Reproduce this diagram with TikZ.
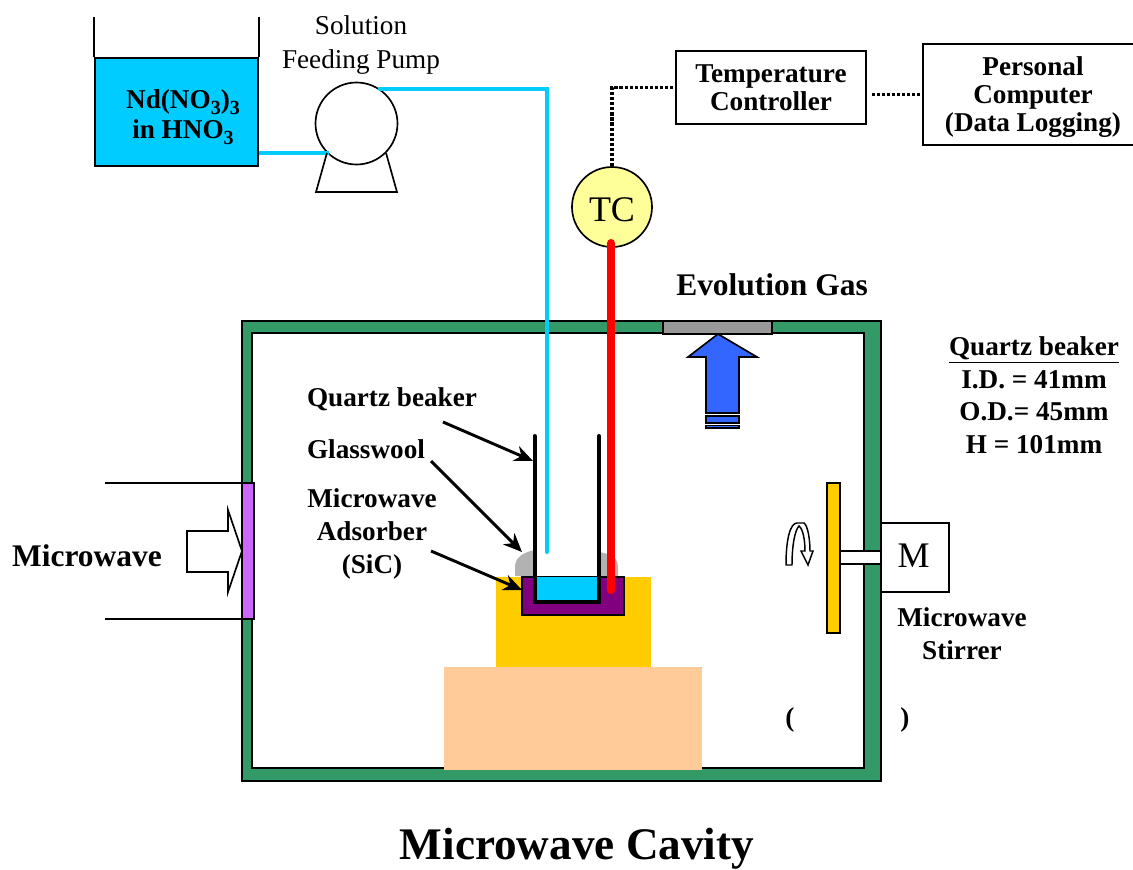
\documentclass[tikz,border=0pt]{standalone}
\usepackage{fontspec}
\setmainfont{Liberation Serif}
\usetikzlibrary{arrows.meta}
\definecolor{liquid}{HTML}{00CCFF}
\definecolor{wallgreen}{HTML}{339966}
\definecolor{amber}{HTML}{FFCC00}
\definecolor{peach}{HTML}{FFCC99}
\definecolor{plum}{HTML}{800080}
\definecolor{violet}{HTML}{CC66FF}
\definecolor{paleyellow}{HTML}{FFFF99}
\definecolor{gasblue}{HTML}{3366FF}
\definecolor{woolgray}{HTML}{B2B2B2}
\newcommand{\lowthree}{\raisebox{-4.5pt}{\fontsize{15}{15}\selectfont 3}}
\tikzset{
    thinline/.style={black, line width=1.25pt},
    pipe/.style={liquid, line width=3pt},
    wire/.style={black, line width=2.6pt, dash pattern=on 2.4pt off 1.4pt},
    pointer/.style={-{Stealth[length=14pt,width=12pt]}, black, line width=2.2pt},
    boldlabel/.style={font=\bfseries\fontsize{20.4}{#1}\selectfont, align=center, inner sep=0pt},
    boldlabel/.default=21,
    plainlabel/.style={font=\fontsize{20.4}{25.5}\selectfont, align=center, inner sep=0pt},
    device/.style={draw, thinline, fill=white, inner sep=0pt}
}

\begin{document}
\begin{tikzpicture}[x=0.75pt, y=-0.75pt]
    \useasboundingbox (0,0) rectangle (1133,869);

    % Cavity walls
    \draw[thinline, fill=wallgreen] (242,321) rectangle (881,781);
    \draw[thinline, fill=white] (252,333) rectangle (864,768);

    % Vent and gas arrow
    \draw[thinline, fill=gray!80] (663,321) rectangle (772,334);
    \draw[thinline, fill=gasblue] (718,334) -- (757,357) -- (739,357) -- (739,413) -- (706,413) -- (706,357) -- (688,357) -- cycle;
    \draw[thinline, fill=gasblue] (706,416) rectangle (739,423);
    \draw[thinline, fill=gasblue] (706,425.5) rectangle (739,428);
    \node[font=\bfseries\fontsize{23.6}{26}\selectfont, inner sep=0pt] (gaslabel) at (772,285) {Evolution Gas};

    % Stage
    \fill[peach] (444,667) rectangle (702,770);
    \fill[amber] (496,577) rectangle (651,667);

    % Glasswool
    \fill[woolgray] (534,550) .. controls (522,553) and (515,558) .. (515,567) -- (515,576) -- (534,576) -- cycle;
    \fill[woolgray] (599,552) .. controls (611,554) and (618,558) .. (618,567) -- (618,576) -- (599,576) -- cycle;

    % Adsorber and beaker
    \draw[thinline, fill=plum] (522,577) rectangle (624,615);
    \fill[liquid] (535,577) rectangle (599,602);
    \draw[black, line width=3pt, line cap=round] (534.5,436) -- (534.5,602) -- (599,602) -- (599,436);

    % Tank
    \node[draw, thinline, fill=liquid, minimum width=122.25pt, minimum height=81pt, inner sep=0pt] (tank) at (176.5,112) {};
    \draw[thinline] (tank.north west) -- ++(0,-40);
    \draw[thinline] (tank.north east) -- ++(0,-40);
    \node[boldlabel=23] (tanklabel) at (183,117) {Nd(NO\lowthree)\lowthree\\in HNO\lowthree};

    % Pump
    \coordinate (pumpin) at (329,153);
    \coordinate (pipeend) at (547,552);
    \node[device, circle, minimum size=61.5pt] (pump) at (356.5,123.5) {};
    \draw[pipe] (tank.east |- pumpin) -- (pumpin);
    \draw[pipe, line cap=round] (pump.56) -| (pipeend);
    \draw[thinline] (pump.225) -- (316,192) -- (397,192) -- (pump.-45);
    \node[plainlabel] (pumplabel) at (361,45) {Solution\\Feeding Pump};

    % Thermocouple
    \node[device, circle, fill=paleyellow, minimum size=60pt] (tc) at (612,207) {};
    \node[font=\fontsize{27}{30}\selectfont, inner sep=0pt] (tclabel) at (612,210) {TC};
    \coordinate (probeend) at (611,590);
    \draw[red, line width=6pt, line cap=round] (611,243) -- (probeend);

    % Controller and computer
    \node[device, minimum width=142.5pt, minimum height=54.75pt, boldlabel=20.6] (ctrl) at (771,87.5) {Temperature\\Controller};
    \node[device, minimum width=165pt, minimum height=75.75pt] (pc) at (1033,94.5) {};
    \node[boldlabel=21] (pclabel) at (1033,97) {Personal\\Computer\\(Data Logging)};
    \draw[wire] (tc.north) |- (ctrl.west);
    \draw[wire] ([xshift=3.5pt]ctrl.east |- pc.west) -- (pc.west);

    % Microwave inlet
    \draw[thinline] (105,483) -- (255,483);
    \draw[thinline] (105,619) -- (255,619);
    \draw[thinline, fill=violet] (242,483) rectangle (254,619);
    \draw[thinline, fill=white] (187,531) -- (228,531) -- (228,510) -- (242,551) -- (228,592) -- (228,572) -- (187,572) -- cycle;
    \node[font=\bfseries\fontsize{23.6}{26}\selectfont, inner sep=0pt] (mwlabel) at (87,556) {Microwave};

    % Stirrer
    \draw[thinline, fill=white] (840,551) rectangle (881,564);
    \draw[thinline, fill=amber] (827,483) rectangle (840,633);
    \node[device, minimum width=51pt, minimum height=51.75pt] (motor) at (915,557.5) {};
    \node[font=\fontsize{27}{30}\selectfont, inner sep=0pt] (motorlabel) at (913.5,556) {M};
    \draw[black, line width=1.1pt, fill=white] (786,565) .. controls (786,540) and (790,523) .. (797,523) -- (804,523) .. controls (808,526) and (810,540) .. (810,551) -- (813,551) -- (808,565) -- (801,551) -- (805,551) .. controls (805,540) and (803,529) .. (799,526) .. controls (795,530) and (792,545) .. (792,565) -- cycle;
    \node[boldlabel=24.7] (stirlabel) at (962,634) {Microwave\\Stirrer};
    \node[boldlabel=21] (lparen) at (790,720) {(};
    \node[boldlabel=21] (rparen) at (905,720) {)};

    % Beaker labels
    \node[boldlabel=21] (beakerlabel) at (392,399) {Quartz beaker};
    \node[boldlabel=21] (woollabel) at (366,449) {Glasswool};
    \node[boldlabel=24.5] (siclabel) at (372,534) {Microwave\\Adsorber\\(SiC)};
    \coordinate (beakerwall) at (533,461);
    \coordinate (woolpoint) at (522,552);
    \coordinate (sicwall) at (522,590);
    \draw[pointer] (443,422) -- (beakerwall);
    \draw[pointer] (431,461) -- (woolpoint);
    \draw[pointer] (431,551) -- (sicwall);

    % Beaker data
    \node[boldlabel=24.4] (datalabel) at (1034,395) {\underline{Quartz beaker}\\I.D. = 41mm\\O.D.= 45mm\\H = 101mm};

    % Title
    \node[font=\bfseries\fontsize{33.9}{38}\selectfont, inner sep=0pt] (title) at (577,849) {Microwave Cavity};
\end{tikzpicture}
\end{document}
